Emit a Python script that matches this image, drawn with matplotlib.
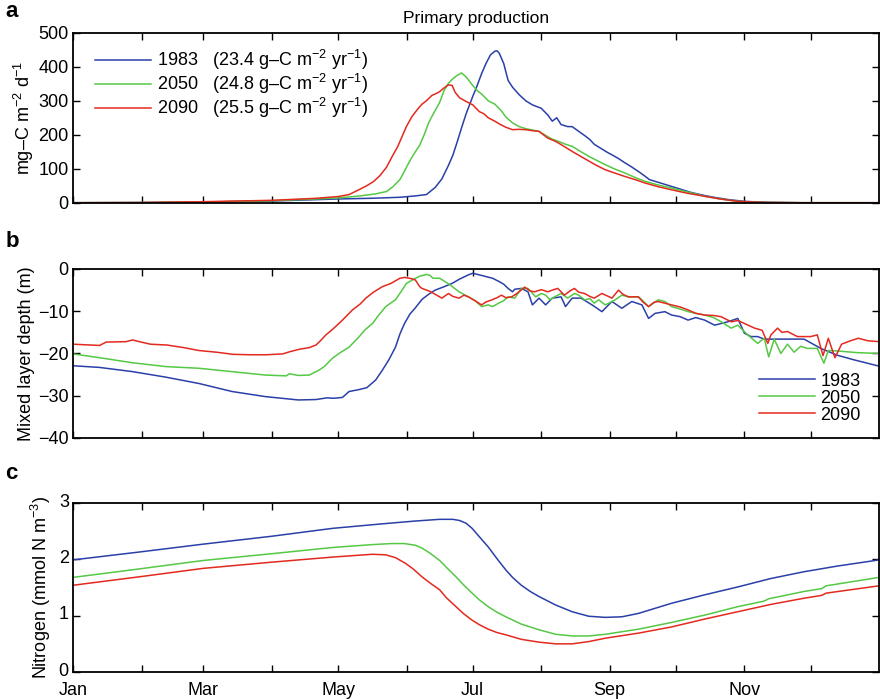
import numpy as np
import matplotlib
matplotlib.use("Agg")
import matplotlib.pyplot as plt
from matplotlib.transforms import ScaledTranslation

plt.rcParams['font.family'] = ['Liberation Sans', 'DejaVu Sans']
plt.rcParams['mathtext.fontset'] = 'custom'
plt.rcParams['mathtext.rm'] = 'Liberation Sans'
plt.rcParams['mathtext.it'] = 'Liberation Sans:italic'
plt.rcParams['mathtext.default'] = 'regular'

# Month starts (day of year) and labels
month_days = [0, 31, 59, 90, 120, 151, 181, 212, 243, 273, 304, 334]
month_labels = ['Jan', '', 'Mar', '', 'May', '', 'Jul', '', 'Sep', '', 'Nov', '']

years = ['1983', '2050', '2090']
annual_pp = [23.4, 24.8, 25.5]
colors = ['#2a40a8', '#55c845', '#e4291f']

# --- a: primary production (mg-C m-2 d-1) ---
pp_1983_day = [0, 30, 59, 90, 110, 120, 135, 148, 155, 160, 164, 167, 170, 172, 174, 176, 178,
               181, 183, 185, 187, 189, 191, 192, 193, 195, 197, 199, 202, 205, 208, 210, 212,
               215, 217, 219, 221, 224, 226, 229, 232, 234, 236, 239, 242, 244, 247, 250, 253,
               256, 259, 261, 266, 271, 276, 280, 286, 291, 297, 304, 315, 330, 365]
pp_1983 = [0, 0.5, 2, 5, 9, 11, 13, 16, 20, 24, 45, 70, 110, 140, 180, 222, 262,
           313, 345, 380, 410, 435, 446, 447, 440, 410, 360, 340, 318, 300, 288, 283, 278,
           258, 240, 250, 230, 224, 224, 210, 196, 186, 172, 160, 148, 141, 130, 117, 105,
           92, 78, 68, 58, 48, 38, 30, 21, 15, 9, 4, 1, 0, 0]

pp_2050_day = [0, 30, 59, 90, 110, 120, 130, 137, 142, 145, 148, 150, 152, 154, 157, 159, 161,
               163, 166, 168, 170, 172, 174, 176, 178, 181, 183, 185, 188, 191, 194, 196, 199,
               202, 205, 208, 211, 214, 217, 220, 223, 226, 230, 234, 237, 241, 245, 250, 255,
               259, 265, 271, 278, 286, 293, 301, 312, 330, 365]
pp_2050 = [0, 0.5, 2, 6, 11, 14, 20, 26, 33, 48, 68, 92, 117, 140, 170, 200, 235,
           260, 295, 330, 352, 365, 375, 382, 370, 345, 330, 320, 300, 290, 270, 252, 235,
           224, 218, 214, 210, 198, 187, 180, 172, 166, 150, 135, 125, 112, 100, 87, 73,
           63, 52, 43, 32, 19, 11, 4, 1, 0, 0]

pp_2090_day = [0, 30, 59, 90, 110, 120, 125, 130, 133, 136, 139, 142, 144.5, 147, 149, 151,
               153.5, 156, 158, 160, 162.5, 164, 166, 168, 170, 171.7, 173, 175, 178, 181, 184,
               186, 188, 191, 193, 196, 199, 202, 205, 208, 211, 213, 215, 218, 220, 223, 226,
               230, 234, 237, 241, 245, 250, 255, 259, 265, 271, 278, 286, 293, 301, 312, 330, 365]
pp_2090 = [0, 0.5, 3, 7, 13, 18, 24, 40, 50, 62, 80, 105, 136, 165, 195, 225,
           254, 275, 290, 300, 316, 320, 327, 338, 347, 345, 325, 309, 298, 288, 268,
           262, 250, 240, 232, 222, 215, 216, 215, 212, 210, 200, 190, 182, 175, 163, 151,
           136, 121, 110, 97, 88, 77, 67, 58, 47, 38, 28, 19, 11, 4, 1, 0, 0]

# --- b: mixed layer depth (m) ---
mld_1983_day = [0, 12, 27, 42, 57, 72, 87, 102, 110, 115, 118, 122, 125, 129, 133, 137, 140, 143,
                146, 148, 150, 152.5, 155, 158, 161, 164, 168, 171.7, 175, 179, 181, 184, 187,
                190, 193, 195, 197, 199, 200, 203, 206, 208, 211, 214, 217, 221, 223, 226, 230,
                235, 239.5, 244, 248.5, 253, 257.6, 260.6, 263.6, 268, 271, 275, 278.5, 282, 286,
                290.5, 296.5, 301, 304, 307, 310, 313, 320, 331, 338.6, 346, 353.6, 365]
mld_1983 = [-22.9, -23.3, -24.3, -25.6, -27.1, -29.0, -30.2, -31.0, -30.9, -30.5, -30.6, -30.4,
            -29.0, -28.6, -28.1, -26.3, -24.0, -21.5, -18.5, -15.4, -13.0, -10.7, -9.2, -7.2,
            -6.0, -5.0, -4.2, -3.4, -2.4, -1.4, -1.0, -1.4, -1.8, -2.2, -3.0, -3.6, -4.6, -5.4,
            -4.8, -4.6, -5.4, -8.5, -6.9, -8.5, -6.9, -6.6, -8.9, -6.9, -6.9, -8.5, -10.1,
            -7.7, -9.3, -7.7, -8.5, -11.7, -10.5, -10.1, -10.9, -11.3, -12.1, -11.5, -12.1,
            -13.3, -12.5, -11.7, -15.2, -16.0, -16.0, -16.6, -16.6, -16.6, -18.8, -20.4, -21.5, -23.0]

mld_2050_day = [0, 12, 27, 42, 57, 72, 87, 96.5, 98, 102, 107, 111.5, 114, 117.5, 121, 125, 129.6,
                132, 135.6, 138, 141.6, 144, 146, 149, 151, 154, 157, 160, 161.6, 163, 166, 170,
                174.8, 179, 182, 185, 188, 190, 192.7, 195, 197, 200, 203, 206, 209.5, 212, 214,
                216, 218, 221, 224, 227, 229, 231.6, 234, 236, 238, 241, 245.5, 248.5, 251.5, 256,
                258, 260.6, 265, 268, 271, 275, 278.5, 282, 286, 290, 293.5, 298, 301, 305.5, 310,
                313, 315, 317.5, 320.5, 323.5, 326.5, 329.5, 332.5, 337, 340, 342, 346, 355, 365]
mld_2050 = [-20.1, -21.0, -22.2, -23.1, -23.5, -24.3, -25.1, -25.3, -24.8, -25.2, -25.1, -23.9,
            -23.0, -21.1, -19.8, -18.5, -16.0, -14.5, -12.9, -11.2, -8.9, -8.0, -7.3, -5.0,
            -3.4, -2.5, -1.7, -1.3, -1.5, -2.2, -2.2, -3.5, -5.4, -6.6, -7.5, -8.9, -8.5, -8.9,
            -8.1, -7.5, -6.6, -6.9, -4.6, -4.6, -6.6, -5.8, -6.2, -7.3, -6.6, -5.8, -6.9, -5.8,
            -6.2, -7.3, -7.0, -8.1, -7.3, -8.5, -7.3, -6.2, -6.6, -6.6, -7.5, -8.9, -7.3, -7.7,
            -8.9, -9.5, -10.1, -10.5, -10.9, -11.5, -12.5, -14.0, -13.3, -15.6, -17.6, -16.4,
            -20.8, -16.6, -20.0, -17.8, -19.7, -18.3, -18.8, -18.8, -22.3, -19.3, -19.4, -19.8, -20.0]

mld_2090_day = [0, 12, 15, 24, 27, 30, 35, 42.5, 50, 57, 65, 72.4, 80, 87.5, 95, 98, 102.5, 107,
                110, 112, 114.5, 117.5, 122, 126.5, 130, 132.6, 136, 140, 144, 146, 148, 150,
                152.5, 155, 157, 158, 161.6, 164, 167, 170, 172, 174.8, 177, 179, 182, 185, 187,
                189.7, 192, 194, 196, 198.6, 201, 204.5, 207, 209, 212, 215, 217, 219.5, 222.5,
                225, 227, 229, 231.6, 234, 236, 239.5, 242, 244, 247, 249, 251.5, 256, 258, 260.6,
                263, 265, 268, 271, 275, 278.5, 282, 286, 290, 293.5, 298, 301, 304, 308.6, 312,
                314.6, 316, 319, 321, 323.5, 328, 334, 337, 339.6, 342, 345, 348, 352, 355.6, 360, 365]
mld_2090 = [-17.8, -18.1, -17.3, -17.2, -16.8, -17.2, -17.8, -18.0, -18.6, -19.3, -19.7, -20.2,
            -20.3, -20.3, -20.1, -19.6, -19.0, -18.6, -18.0, -17.0, -15.6, -14.3, -12.1, -9.7,
            -8.3, -6.9, -5.5, -4.2, -3.4, -2.8, -2.2, -2.0, -2.2, -2.6, -4.2, -4.6, -5.3, -6.0,
            -6.9, -5.8, -6.5, -6.9, -6.2, -6.6, -7.5, -8.5, -7.8, -7.3, -6.8, -6.2, -6.8, -6.6,
            -5.8, -4.3, -5.2, -5.4, -4.9, -5.4, -5.0, -4.6, -6.2, -5.2, -4.6, -5.5, -5.8, -6.5,
            -6.9, -5.8, -6.4, -6.9, -5.0, -6.0, -6.6, -6.6, -7.8, -8.9, -7.9, -7.7, -8.1, -8.5,
            -9.0, -9.7, -10.5, -10.9, -11.0, -11.3, -12.5, -12.2, -12.9, -14.0, -14.5, -17.6,
            -15.6, -14.0, -15.0, -14.8, -16.0, -16.0, -15.6, -20.5, -16.4, -21.0, -17.8, -17.0,
            -16.4, -17.0, -17.2]

# --- c: nitrogen (mmol N m-3) ---
n_1983_day = [0, 30, 59, 90, 117.5, 140, 155, 166, 172, 175, 178, 180.7, 184, 188, 192, 196, 199,
              203, 207, 211, 218.5, 226, 233.5, 241, 248.5, 256, 271, 286, 301, 316, 331, 346, 365]
n_1983 = [1.99, 2.13, 2.27, 2.41, 2.55, 2.63, 2.68, 2.71, 2.71, 2.69, 2.64, 2.55, 2.40, 2.22,
          2.01, 1.81, 1.68, 1.54, 1.43, 1.34, 1.19, 1.07, 0.99, 0.97, 0.98, 1.04, 1.22, 1.37,
          1.51, 1.66, 1.78, 1.88, 1.99]

n_2050_day = [0, 30, 59, 90, 117.5, 135, 144, 150, 155, 158, 161.6, 166, 169, 173.4, 177, 180.7,
              184, 188, 192, 196, 203, 211, 218.5, 226, 233.5, 241, 256, 271, 286, 301, 313, 315,
              331, 339, 341, 365]
n_2050 = [1.68, 1.83, 1.98, 2.10, 2.21, 2.26, 2.28, 2.28, 2.25, 2.20, 2.11, 1.98, 1.86, 1.69,
          1.54, 1.40, 1.28, 1.16, 1.06, 0.98, 0.85, 0.75, 0.67, 0.64, 0.64, 0.67, 0.76, 0.88,
          1.01, 1.16, 1.26, 1.30, 1.43, 1.48, 1.53, 1.68]

n_2090_day = [0, 30, 59, 90, 117.5, 135.6, 141.6, 146, 150.5, 154, 158, 162, 166, 169, 173.4,
              177, 180.7, 184, 188, 192, 196, 203, 211, 218.5, 226, 233.5, 241, 256, 271, 286,
              301, 316, 331, 339, 341, 365]
n_2090 = [1.54, 1.69, 1.84, 1.95, 2.04, 2.09, 2.08, 2.03, 1.93, 1.83, 1.69, 1.57, 1.46, 1.32,
          1.16, 1.03, 0.92, 0.84, 0.76, 0.70, 0.66, 0.58, 0.53, 0.50, 0.50, 0.54, 0.60, 0.69,
          0.80, 0.94, 1.07, 1.20, 1.31, 1.36, 1.40, 1.53]


def style_axis(ax, show_labels):
    ax.set_xlim(0, 365)
    ax.set_xticks(month_days)
    if show_labels:
        ax.set_xticklabels(month_labels)
    else:
        ax.set_xticklabels([])
    ax.tick_params(direction='in', top=True, right=True, length=5, width=1,
                   labelsize=13, pad=3)
    ax.tick_params(axis='x', pad=7.5)
    for s in ax.spines.values():
        s.set_linewidth(1.3)


def main():
    fig = plt.figure(figsize=(8.8, 6.99), dpi=100)
    left, width = 0.083, 0.916

    # panel a
    ax1 = fig.add_axes([left, 0.710, width, 0.243])
    pp = [(pp_1983_day, pp_1983), (pp_2050_day, pp_2050), (pp_2090_day, pp_2090)]
    for (d, v), yr, tot, c in zip(pp, years, annual_pp, colors):
        lab = yr + '   (' + f'{tot:.1f}' + ' g\u2013C m$^{-2}$ yr$^{-1}$)'
        ax1.plot(d, v, color=c, lw=1.1, label=lab)
    ax1.set_ylim(0, 500)
    ax1.set_yticks([0, 100, 200, 300, 400, 500])
    ax1.set_ylabel('mg\u2013C m$^{-2}$ d$^{-1}$', fontsize=13, labelpad=2)
    ax1.set_title('Primary production', fontsize=12.5, pad=7)
    style_axis(ax1, False)
    ax1.legend(loc='upper left', bbox_to_anchor=(0.012, 0.985), frameon=False, fontsize=13,
               handlelength=3.1, handletextpad=0.3, labelspacing=0.0, borderaxespad=0.3)

    # panel b
    ax2 = fig.add_axes([left, 0.3734, width, 0.2418])
    mld = [(mld_1983_day, mld_1983), (mld_2050_day, mld_2050), (mld_2090_day, mld_2090)]
    for (d, v), yr, c in zip(mld, years, colors):
        ax2.plot(d, v, color=c, lw=1.1, label=yr)
    ax2.set_ylim(-40, 0)
    ax2.set_yticks([-40, -30, -20, -10, 0])
    ax2.set_yticklabels(['\u221240', '\u221230', '\u221220', '\u221210', '0'])
    ax2.set_ylabel('Mixed layer depth (m)', fontsize=13, labelpad=2)
    style_axis(ax2, False)
    ax2.legend(loc='lower right', bbox_to_anchor=(0.995, 0.0), frameon=False, fontsize=13,
               handlelength=3.1, handletextpad=0.3, labelspacing=0.0, borderaxespad=0.4)

    # panel c
    ax3 = fig.add_axes([left, 0.0386, width, 0.2418])
    nit = [(n_1983_day, n_1983), (n_2050_day, n_2050), (n_2090_day, n_2090)]
    for (d, v), c in zip(nit, colors):
        ax3.plot(d, v, color=c, lw=1.1)
    ax3.set_ylim(0, 3)
    ax3.set_yticks([0, 1, 2, 3])
    ax3.set_ylabel('Nitrogen (mmol N m$^{-3}$)', fontsize=13, labelpad=4)
    style_axis(ax3, True)
    # nudge the y tick labels up a little so "0" clears "Jan"
    shift = ScaledTranslation(0, 3 / 100, fig.dpi_scale_trans)
    for t in ax3.get_yticklabels():
        t.set_transform(t.get_transform() + shift)

    for lab, y in zip(['a', 'b', 'c'], [0.983, 0.655, 0.322]):
        fig.text(0.006, y, lab, fontsize=16, fontweight='bold', va='center', ha='left')

    fig.savefig('out.png', dpi=100)


if __name__ == "__main__":
    main()
